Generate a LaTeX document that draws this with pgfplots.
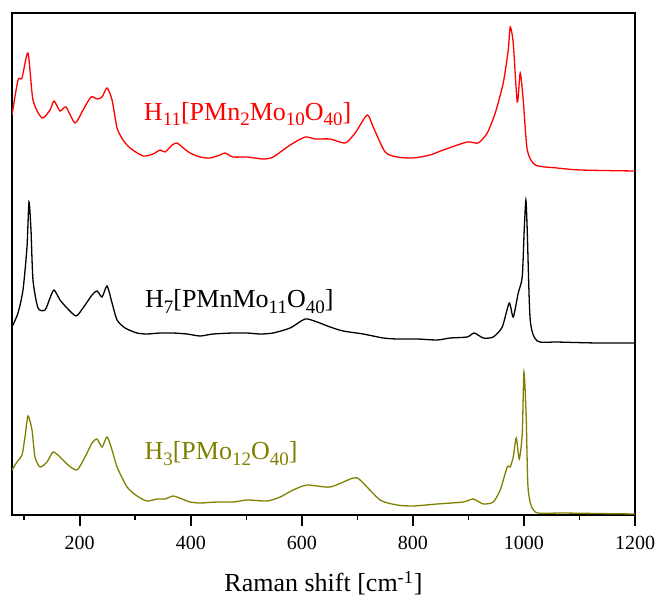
\documentclass[border=0pt]{standalone}
\usepackage{fontspec}
\setmainfont{Liberation Serif}
\usepackage{pgfplots}
\pgfplotsset{compat=1.18}

\definecolor{olivetrace}{RGB}{128,128,0}
\newcommand{\sub}[1]{\raisebox{-3pt}{\fontsize{9.5}{10}\selectfont #1}}

% Raman spectra, offset stacked (intensity in arbitrary units)
\pgfplotstableread{
w y
78 400
88.8 435
96 437
106.8 462
115.8 415
132 397
146.5 405
153.7 414
164.5 404
175.3 408
191.5 392
205.9 405
220.3 418
231.2 416
240.2 418
249.2 427
258.2 415
267.2 387
278 375
290.6 367
314 359
332 361
344.7 365
353.7 363
366.3 370
375.3 372
384.3 368
398.7 362
416.7 358
434.8 357
452.8 360
461.8 362
476.2 358
501.4 358
530.2 356
548.3 358
578.9 370
605.9 378
624 376
651 376
678 372
696 382
717.6 400
728.5 388
750 363
771.7 358
800.5 357
831 360
854.6 365
897.8 373
917.6 372
933.9 382
948.3 402
962.7 432
971.7 465
975.3 488
980.7 472
988 413
993.3 442
998.7 415
1006 365
1020.4 350
1060 347
1101.4 345
1200 344
}\mnTwo

\pgfplotstableread{
w y
78 188
88.8 202
97.8 225
105 268
108.6 313
112.2 285
115.8 235
124.8 207
137.5 205
146.5 217
153.7 225
164.5 215
177 207
193.3 199
205.9 207
222.1 220
231.2 224
240.2 218
249.2 229
258.2 212
267.2 195
281.6 187
303.2 182
321.2 181
344.7 182
368.1 182
393.3 181
416.7 179
440.2 181
476.2 182
501.4 182
524.8 181
548.3 182
578.9 187
605.9 196
627.5 193
651 188
674.4 184
710.4 181
746.5 177
771.7 176
807.7 176
843.8 175
867.2 177
897.8 178
910.4 182
926.7 177
944.7 178
960.9 188
973.5 212
980.7 198
989.7 222
996.9 238
1000.5 285
1003.5 315
1005.9 285
1011.3 195
1023.9 174
1060 173
1132 172
1200 172
}\mnOne

\pgfplotstableread{
w y
78 45
87 53
96 60
101.4 78
106.8 99
114 85
119.4 58
128.5 48
141 53
151.9 63
164.5 58
178.9 50
195.1 45
209.5 58
222.1 72
231.2 76
240.2 68
249.2 78
258.2 65
267.2 48
285.2 28
303.2 19
321.2 14
339.3 16
353.7 16
368.1 19
384.3 16
398.7 13
416.7 12
447.4 13
476.2 13
501.4 15
537.5 14
560.9 18
584.3 25
609.5 30
651 28
692.4 37
705 35
741 15
771.7 10
800.5 9
843.8 11
890.7 13
908.7 16
926.7 11
944.7 13
957.3 25
969.9 48
975.3 48
980.7 58
986.2 77
991.6 56
997 82
1000 143
1004.1 98
1007.7 25
1020.4 3
1070.8 2
1200 1
}\pmo

\begin{document}
\begin{tikzpicture}
\begin{axis}[
    scale only axis,
    width=311.5pt,
    height=251pt,
    xmin=78, xmax=1200,
    ymin=0, ymax=502,
    xtick={200,400,...,1200},
    minor xtick={100,300,...,1100},
    ytick=\empty,
    xtick pos=bottom,
    xtick align=outside,
    major tick length=5.5pt,
    minor tick length=2.75pt,
    axis line style={line width=1pt},
    every tick/.style={black, line width=0.8pt},
    tick label style={font=\fontsize{10}{12}\selectfont},
    /pgf/number format/assume math mode=true,
    /pgf/number format/1000 sep={},
    xticklabel style={yshift=-1.5pt, inner xsep=0pt},
    xlabel={Raman shift [cm\textsuperscript{-1}]},
    xlabel style={font=\fontsize{13}{15}\selectfont,
        at={(axis description cs:0.5,0)}, anchor=base, yshift=-38.5pt},
]
\addplot[red, line width=0.65pt, smooth, tension=0.4] table[x=w,y=y] {\mnTwo};
\addplot[black, line width=0.65pt, smooth, tension=0.4] table[x=w,y=y] {\mnOne};
\addplot[olivetrace, line width=0.65pt, smooth, tension=0.4] table[x=w,y=y] {\pmo};

\node[anchor=base west, red, font=\fontsize{13}{15}\selectfont]
    at (axis cs:303,395) {H\sub{11}[PMn\sub{2}Mo\sub{10}O\sub{40}]};
\node[anchor=base west, black, font=\fontsize{13}{15}\selectfont]
    at (axis cs:305,207) {H\sub{7}[PMnMo\sub{11}O\sub{40}]};
\node[anchor=base west, olivetrace, font=\fontsize{13}{15}\selectfont]
    at (axis cs:304,55) {H\sub{3}[PMo\sub{12}O\sub{40}]};
\end{axis}
\path ([xshift=-6pt,yshift=-41pt]current axis.south west)
    rectangle ([xshift=10.5pt,yshift=6.5pt]current axis.north east);
\end{tikzpicture}
\end{document}
